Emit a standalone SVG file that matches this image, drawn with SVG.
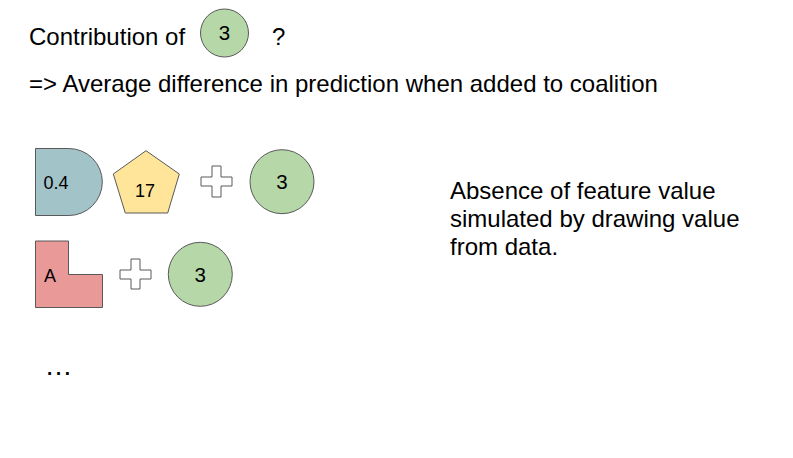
<svg xmlns="http://www.w3.org/2000/svg" width="793" height="458" viewBox="0 0 793 458">
<style>
.t{font-family:"Liberation Sans",Arial,sans-serif;fill:#000}
.big{font-size:24px}
.lbl{font-size:18px}
.num{font-size:20.5px;text-anchor:middle}
.sh{stroke:#595959;stroke-width:1}
.green{fill:#b6d7a8}
.plus{fill:#fff}
</style>
<rect width="793" height="458" fill="#fff"/>
<g id="title">
<text class="t big" x="29" y="45">Contribution of</text>
<text class="t big" x="272" y="45">?</text>
</g>
<g id="title-circle">
<circle class="sh green" cx="224.5" cy="33" r="24"/>
<text class="t num" x="224.5" y="39.5">3</text>
</g>
<g id="subtitle">
<text class="t big" x="29" y="92">=&gt; Average difference in prediction when added to coalition</text>
</g>
<g id="node-d">
<path class="sh" fill="#a2c4c9" d="M35.5,148.5 H68.8 A33.5,33.5 0 0 1 68.8,215.5 H35.5 Z"/>
<text class="t lbl" x="43.5" y="189">0.4</text>
</g>
<g id="node-pentagon">
<polygon class="sh" fill="#ffe599" points="146,150.7 179.3,174 167.7,213 125.3,213 113.3,174"/>
<text class="t lbl" x="145" y="196.5" text-anchor="middle">17</text>
</g>
<g id="plus-1">
<polygon class="sh plus" points="212,166 221,166 221,177 232,177 232,186 221,186 221,197 212,197 212,186 201,186 201,177 212,177"/>
</g>
<g id="circle-1">
<circle class="sh green" cx="282" cy="181.7" r="32"/>
<text class="t num" x="282" y="189">3</text>
</g>
<g id="node-l">
<path class="sh" fill="#ea9999" d="M35.5,241 H68.5 V274.5 H102.5 V307.5 H35.5 Z"/>
<text class="t lbl" x="44" y="281.5">A</text>
</g>
<g id="plus-2">
<polygon class="sh plus" points="131,259 140,259 140,270 151,270 151,279 140,279 140,289 131,289 131,279 120,279 120,270 131,270"/>
</g>
<g id="circle-2">
<circle class="sh green" cx="200.3" cy="274.3" r="32"/>
<text class="t num" x="200.3" y="281.5">3</text>
</g>
<g id="ellipsis">
<text class="t" font-size="28" x="44.5" y="374.5">…</text>
</g>
<g id="note">
<text class="t big" x="450" y="198.5">Absence of feature value</text>
<text class="t big" x="450" y="226.5">simulated by drawing value</text>
<text class="t big" x="450" y="254.5">from data.</text>
</g>
<g id="connectors"></g>
</svg>
